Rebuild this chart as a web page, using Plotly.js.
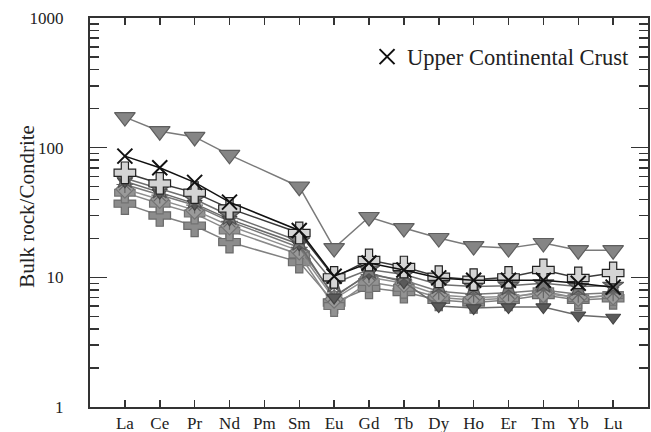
<!DOCTYPE html>
<html>
<head>
<meta charset="utf-8">
<script src="https://cdn.plot.ly/plotly-3.0.1.min.js"></script>
<style>html,body{margin:0;padding:0;background:#fff;}#chart{width:651px;height:432px;}</style>
</head>
<body>
<div id="chart"></div>
<script>
const elements = ["La","Ce","Pr","Nd","Pm","Sm","Eu","Gd","Tb","Dy","Ho","Er","Tm","Yb","Lu"];

const sampleHigh   = [172, 134, 121, 88, null, 50, 16.8, 29.2, 24, 20.1, 17.4, 16.8, 18.4, 16.2, 16.2];
const sampleE      = [58, 48, 40, 30, null, 19, 9.0, 11.5, 10.5, 8.8, 8.5, 8.6, 9.0, 8.5, 8.6];
const sampleF      = [52, 43, 36, 27, null, 17, 7.2, 10.5, 9.5, 7.8, 7.4, 7.6, 8.0, 7.4, 7.6];
const sampleG      = [48, 40, 33, 25, null, 16, 6.8, 10.0, 9.0, 7.3, 7.0, 7.1, 7.5, 7.0, 7.2];
const sampleH      = [55, 45, 37, 28, null, 18, 7.0, 10.8, 9.2, 6.0, 5.8, 5.9, 5.9, 5.1, 4.9];
const sampleI      = [45, 37, 31, 23, null, 15, 6.0, 9.2, 8.3, 7.0, 6.7, 6.9, 7.8, 6.9, 7.3];
const sampleLow    = [37, 30, 25, 18.7, null, 13.1, 6.4, 8.3, 7.7, 6.7, 6.4, 6.7, 7.3, 6.7, 6.9];
const sampleLight  = [64, 53, 45, 34, null, 22, 10.0, 13.6, 12.0, 10.1, 9.6, 10.0, 11.4, 9.9, 10.8];
const ucc          = [86, 70, 54, 38, null, 23, 10.2, 12.9, 11.4, 9.9, 9.5, 9.5, 9.5, 9.0, 8.4];

const yTickVals = [1, 10, 100, 1000];
const yTickText = ['1', '10', '100', '1000'];
const yTitle = 'Bulk rock/Condrite';
const legendName = 'Upper Continental Crust';

const FONT = 'Liberation Serif';

function sample(y, symbol, fill, edge, lineColor, size) {
  return {
    x: elements, y: y, type: 'scatter', mode: 'lines+markers', connectgaps: true,
    showlegend: false,
    line: {color: lineColor, width: 1.5},
    marker: {symbol: symbol, size: size, color: fill, line: {color: edge, width: 1.2}}
  };
}

const traces = [
  sample(sampleHigh, 'triangle-down', '#858585', '#5e5e5e', '#7a7a7a', 18),
  sample(sampleLow, 'cross', '#8c8c8c', '#6a6a6a', '#808080', 18),
  sample(sampleI, 'cross', '#929292', '#727272', '#8a8a8a', 17),
  sample(sampleG, 'diamond', '#9a9a9a', '#747474', '#909090', 14),
  sample(sampleF, 'asterisk-open', '#666', '#666', '#7a7a7a', 14),
  sample(sampleH, 'triangle-down', '#5a5a5a', '#444', '#6a6a6a', 13),
  sample(sampleE, 'star', '#7a7a7a', '#555', '#6f6f6f', 16),
  sample(sampleLight, 'cross', '#d4d4d4', '#222', '#3a3a3a', 18),
  {
    x: elements, y: ucc, type: 'scatter', mode: 'lines+markers', connectgaps: true,
    showlegend: false,
    line: {color: '#111', width: 1.5},
    marker: {symbol: 'x-thin', size: 15, color: '#111', line: {color: '#111', width: 2}}
  },
  {
    x: [null], y: [null], type: 'scatter', mode: 'markers', name: legendName,
    showlegend: true,
    marker: {symbol: 'x-thin', size: 15, color: '#111', line: {color: '#111', width: 2}}
  }
];

const layout = {
  width: 651, height: 432,
  margin: {l: 90, r: 3, t: 18, b: 25},
  paper_bgcolor: '#fff', plot_bgcolor: '#fff',
  font: {family: FONT, color: '#222', size: 16},
  showlegend: true,
  legend: {
    x: 0.975, y: 0.955, xanchor: 'right', yanchor: 'top',
    bgcolor: 'rgba(0,0,0,0)', borderwidth: 0, itemwidth: 30,
    font: {family: FONT, size: 22.5, color: '#222'}
  },
  xaxis: {
    type: 'category', categoryorder: 'array', categoryarray: elements,
    range: [-1, 15],
    showline: true, linecolor: '#333', linewidth: 2, mirror: 'ticks',
    ticks: 'inside', ticklen: 7, tickwidth: 1.5, tickcolor: '#333',
    showgrid: false, zeroline: false,
    tickfont: {family: FONT, size: 17},
    ticklabelstandoff: 0
  },
  yaxis: {
    type: 'log', range: [0, 3],
    tickvals: yTickVals, ticktext: yTickText,
    showline: true, linecolor: '#333', linewidth: 2, mirror: 'ticks',
    ticks: 'inside', ticklen: 17, tickwidth: 1.5, tickcolor: '#333',
    minor: {dtick: 'D1', ticks: 'inside', ticklen: 9, tickwidth: 1.5, tickcolor: '#333', showgrid: false},
    showgrid: false, zeroline: false,
    tickfont: {family: FONT, size: 17},
    ticklabelstandoff: 21
  },
  annotations: [{
    text: yTitle, xref: 'paper', yref: 'paper', x: -0.113, y: 0.517,
    xanchor: 'center', yanchor: 'middle', textangle: -90, showarrow: false,
    font: {family: FONT, size: 21, color: '#222'}
  }]
};

Plotly.newPlot('chart', traces, layout, {displayModeBar: false, staticPlot: true});
</script>
</body>
</html>
